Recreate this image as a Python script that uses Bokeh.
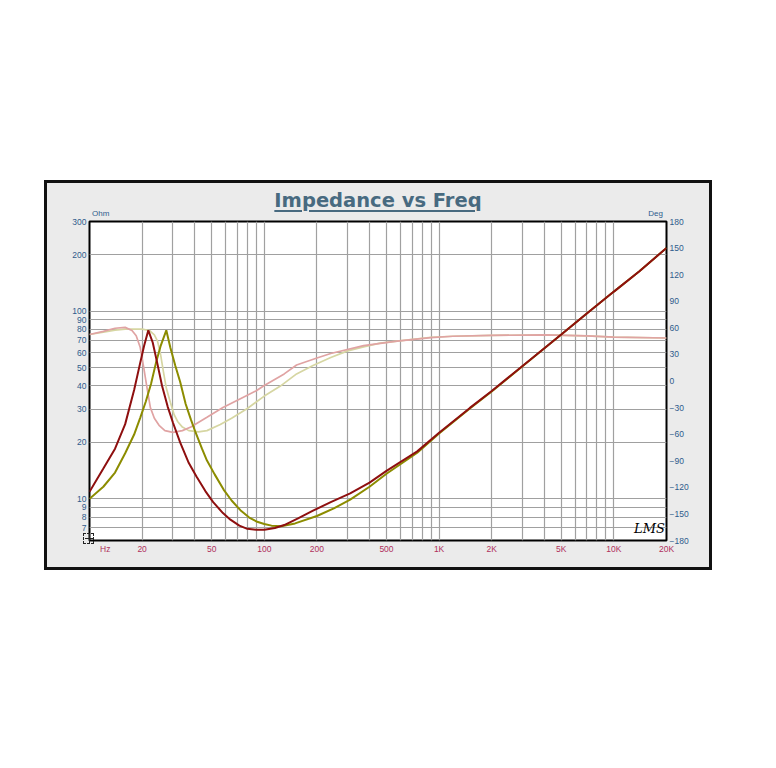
from bokeh.plotting import figure
from bokeh.models import (Range1d, LinearAxis, LinearScale, FixedTicker, Label, Spacer, Div)
from bokeh.layouts import column, row
from bokeh.embed import file_html
from bokeh.resources import INLINE

# ---------------- data ----------------
freq_z1 = [10, 12, 14, 16, 18, 19.5, 20.5, 21.7, 23, 24.5, 26, 28, 30, 33, 37, 41, 46, 51, 58, 64,
           72, 80, 90, 100, 115, 130, 155, 190, 240, 310, 400, 500, 750, 1000, 1500, 2000, 3000,
           5000, 7000, 10000, 14000, 20000]
z1 = [10.9, 14.5, 18.5, 25, 38, 53, 65, 79, 68, 52, 40, 31, 25.5, 20, 15.5, 13.1, 11, 9.6, 8.4, 7.75,
      7.2, 6.92, 6.85, 6.85, 7.0, 7.25, 7.85, 8.65, 9.6, 10.7, 12.2, 14.1, 17.9, 22.5, 30.5, 37.5, 51,
      75, 97, 127, 163, 217]

freq_z2 = [10, 12, 14, 16, 18, 19.5, 21, 22.5, 24, 25.5, 27.5, 29, 31, 33, 35.5, 38, 40.5, 44, 47, 52,
           58.5, 65, 73, 82, 91, 100, 110, 125, 150, 200, 250, 310, 400, 500, 750, 1000, 1500, 2000,
           3000, 5000, 7000, 10000, 14000, 20000]
z2 = [10.0, 11.6, 13.8, 17.5, 22, 27, 33, 41, 53, 65, 79, 64, 51, 42, 32, 26.5, 22.5, 18.5, 16.0, 13.5,
      11.2, 9.8, 8.7, 7.95, 7.55, 7.35, 7.2, 7.15, 7.4, 8.1, 8.9, 9.9, 11.6, 13.6, 17.6, 22.3, 30.3, 37.3,
      50.8, 75, 97, 127, 163, 217]

freq_p1 = [10, 12, 14, 16, 17.5, 18.5, 19.5, 20.4, 21.3, 22.3, 23.5, 25, 27, 30, 34, 38, 47, 58, 73, 90,
           100, 130, 153, 200, 240, 370, 575, 900, 1200, 2000, 4000, 7000, 10000, 20000]
p1 = [52.5, 56, 59.5, 60.5, 57, 51, 38, 16, -7, -30, -42, -50, -56, -58, -56, -52, -41, -30, -20, -11,
      -5, 8, 18, 26, 31, 40, 45, 49, 50.5, 51.5, 52, 51, 49.5, 48.5]

freq_p2 = [10, 12, 14, 16, 18, 20, 22, 23.5, 24.5, 25.5, 26.5, 27.5, 29, 30.5, 32, 34, 37, 42, 47, 56,
           65, 80, 100, 123, 153, 190, 240, 300, 370, 460, 575, 900, 1200, 2000, 4000, 7000, 10000, 20000]
p2 = [52.5, 55, 57.5, 58.5, 58.5, 58.5, 57, 52, 45, 30, 10, -8, -24, -38, -46, -52, -56, -57.5, -56, -49,
      -42, -31, -17, -6, 8, 17.5, 26.5, 34, 38.5, 42.7, 45, 49.4, 50.5, 51.5, 52, 51, 49.5, 48.5]

ohm_ticks = [7, 8, 9, 10, 20, 30, 40, 50, 60, 70, 80, 90, 100, 200, 300]
deg_ticks = [-180, -150, -120, -90, -60, -30, 0, 30, 60, 90, 120, 150, 180]
hz_ticks = [10, 20, 50, 100, 200, 500, 1000, 2000, 5000, 10000, 20000]
hz_labels = ["", "20", "50", "100", "200", "500", "1K", "2K", "5K", "10K", "20K"]
hz_grid = [m * 10 ** k for k in range(1, 5) for m in range(1, 10) if m * 10 ** k <= 20000]

TITLE = "Impedance vs Freq"

# ---------------- styles ----------------
BLUE = "#2f5b8c"
CRIMSON = "#b0305c"
TITLE_COLOR = "#486a80"
FONT = "Liberation Sans"

p = figure(width=668, height=390, x_axis_type="log", y_axis_type="log",
           x_range=Range1d(10, 20000), y_range=Range1d(6, 300),
           output_backend="svg", toolbar_location=None,
           min_border_left=45, min_border_right=46, min_border_top=41, min_border_bottom=30)
p.extra_y_ranges = {"deg": Range1d(-180, 180)}
p.extra_y_scales = {"deg": LinearScale()}

p.background_fill_color = "white"
p.border_fill_color = "#ebebeb"
p.outline_line_color = "black"
p.outline_line_width = 2

p.xgrid.ticker = FixedTicker(ticks=hz_grid)
p.ygrid.ticker = FixedTicker(ticks=ohm_ticks)
for g in (p.xgrid, p.ygrid):
    g.grid_line_color = "#a0a0a0"
    g.grid_line_width = 1.2

xa = p.xaxis[0]
xa.ticker = FixedTicker(ticks=hz_ticks)
xa.major_label_overrides = {t: l for t, l in zip(hz_ticks, hz_labels)}
ya = p.yaxis[0]
ya.ticker = FixedTicker(ticks=ohm_ticks)
ya.major_label_overrides = {t: str(t) for t in ohm_ticks}

ra = LinearAxis(y_range_name="deg", ticker=FixedTicker(ticks=deg_ticks))
p.add_layout(ra, "right")

for ax, col in ((xa, CRIMSON), (ya, BLUE), (ra, BLUE)):
    ax.axis_line_color = None
    ax.major_tick_line_color = None
    ax.minor_tick_line_color = None
    ax.major_tick_out = 0
    ax.major_tick_in = 0
    ax.major_label_text_font = FONT
    ax.major_label_text_font_size = "8.5px"
    ax.major_label_text_color = col
    ax.major_label_standoff = 3

# ---------------- curves ----------------
p.line(freq_p2, p2, y_range_name="deg", line_color="#d6d6a2", line_width=1.7)
p.line(freq_p1, p1, y_range_name="deg", line_color="#e0a3a3", line_width=1.7)
p.line(freq_z2, z2, line_color="#8c8c00", line_width=2)
p.line(freq_z1, z1, line_color="#8e0f0f", line_width=2)

p.add_layout(Label(x=560, y=12, x_units="screen", y_units="screen", text="LMS",
                   text_align="center", text_baseline="middle", text_font="DejaVu Serif",
                   text_font_style="italic", text_font_size="13px", text_color="black"))

# ---------------- overlay: outer border, title, unit labels ----------------
html = (
    '<div style="position:relative;width:662px;height:384px;margin:0;padding:0;">'
    f'<div style="position:absolute;left:0;top:7px;width:662px;text-align:center;'
    f"font-family:'DejaVu Sans';font-weight:bold;font-size:19.5px;line-height:22px;"
    f'color:{TITLE_COLOR};text-decoration:underline;text-decoration-thickness:2px;'
    f'text-underline-offset:3px;">{TITLE}</div>'
    f'<div style="position:absolute;left:45px;top:26px;font-family:{FONT};font-size:8px;'
    f'line-height:10px;color:{BLUE};">Ohm</div>'
    f'<div style="position:absolute;right:46px;top:26px;font-family:{FONT};font-size:8px;'
    f'line-height:10px;color:{BLUE};">Deg</div>'
    f'<div style="position:absolute;left:53px;top:361px;font-family:{FONT};font-size:8.5px;'
    f'line-height:10px;color:{CRIMSON};">Hz</div>'
    '<div style="position:absolute;left:36px;top:350px;width:11px;height:11px;'
    'border:1px dashed #222;"></div>'
    '<div style="position:absolute;left:38px;top:355px;width:9px;height:1px;background:#222;"></div>'
    '<div style="position:absolute;left:42px;top:351px;width:1px;height:9px;background:#222;"></div>'
    '</div>'
)
overlay = Div(text=html, width=668, height=390,
              styles={"position": "absolute", "left": "0px", "top": "0px", "z-index": "5",
                      "pointer-events": "none", "border": "3px solid #111",
                      "box-sizing": "border-box", "margin": "0px", "padding": "0px"})

box = column(p, overlay, styles={"position": "relative"})
layout = column(Spacer(height=180), row(Spacer(width=44), box))

open("out.html", "w").write(file_html(layout, INLINE))
